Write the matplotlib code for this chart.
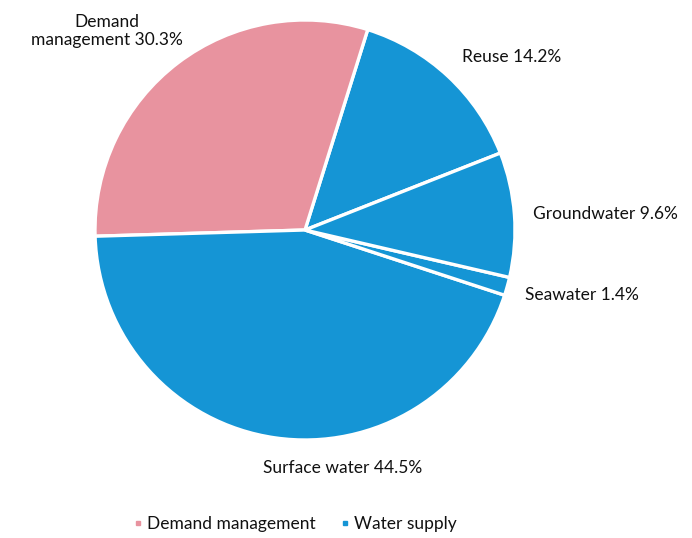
import matplotlib
matplotlib.use("Agg")
import matplotlib.pyplot as plt
from matplotlib.lines import Line2D

categories = ["Reuse", "Demand management", "Surface water", "Seawater", "Groundwater"]
values = [14.2, 30.3, 44.5, 1.4, 9.6]
groups = ["Water supply", "Demand management", "Water supply", "Water supply", "Water supply"]
legend_labels = ["Demand management", "Water supply"]
group_colors = {"Demand management": "#E8939F", "Water supply": "#1595D5"}

plt.rcParams['font.family'] = ['Lato', 'DejaVu Sans']

W, H = 692, 538
fig = plt.figure(figsize=(W / 100, H / 100), dpi=100)
ax = fig.add_axes([95 / W, (H - 440) / H, 420 / W, 420 / H])
colors = [group_colors[g] for g in groups]
ax.pie(values, colors=colors, startangle=21.5, counterclock=True,
       wedgeprops=dict(edgecolor="white", linewidth=2.4), radius=1.0)
ax.set_xlim(-1.0, 1.0)
ax.set_ylim(-1.0, 1.0)
ax.set_aspect("equal")
ax.axis("off")

fs = 12.5
txt = dict(fontsize=fs, color="#111111")
def px(x, y):
    return x / W, 1 - y / H

fig.text(*px(107, 31), f"Demand\nmanagement {values[1]}%", ha="center", va="center",
         linespacing=1.2, **txt)
fig.text(*px(462, 57), f"Reuse {values[0]}%", ha="left", va="center", **txt)
fig.text(*px(533, 214), f"Groundwater {values[4]}%", ha="left", va="center", **txt)
fig.text(*px(525, 295), f"Seawater {values[3]}%", ha="left", va="center", **txt)
fig.text(*px(343, 468), f"Surface water {values[2]}%", ha="center", va="center", **txt)

handles = [Line2D([0], [0], marker="s", linestyle="none", markersize=3.5,
                  markerfacecolor=group_colors[l], markeredgecolor=group_colors[l])
           for l in legend_labels]
fig.legend(handles, legend_labels, loc="center", bbox_to_anchor=px(295, 524),
           ncol=2, frameon=False, handletextpad=0.2, columnspacing=1.4,
           handlelength=0.6, prop={'size': fs})
for t in fig.legends[0].get_texts():
    t.set_color("#111111")

fig.savefig("out.png", dpi=100)
